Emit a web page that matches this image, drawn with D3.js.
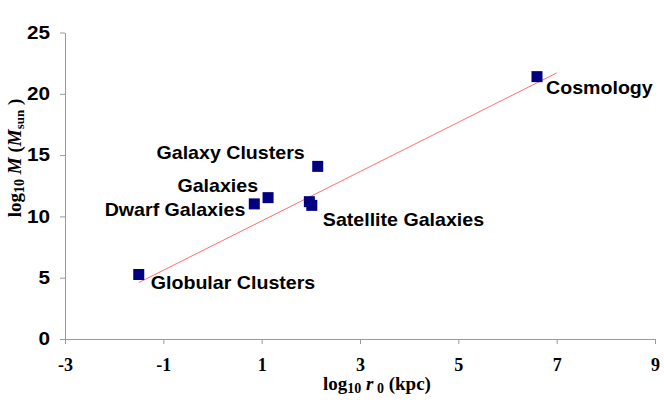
<!DOCTYPE html>
<html>
<head>
<meta charset="utf-8">
<script src="https://cdn.jsdelivr.net/npm/d3@7"></script>
<style>
  html, body { margin: 0; padding: 0; background: #fff; }
  svg { display: block; }
</style>
</head>
<body>
<script>
// ---- data ----
const objectNames = ["Globular Clusters", "Dwarf Galaxies", "Galaxies", "Satellite Galaxies", "Satellite Galaxies", "Galaxy Clusters", "Cosmology"];
const logR = [-1.5, 0.85, 1.13, 1.97, 2.02, 2.14, 6.6];
const logM = [5.26, 11.02, 11.53, 11.2, 10.9, 14.08, 21.4];
const trendX = [-1.5, 7.0];
const trendY = [4.6, 21.7];
const xTicks = [-3, -1, 1, 3, 5, 7, 9];
const yTicks = [0, 5, 10, 15, 20, 25];

// label layout (which points are labelled, and where)
const labelLayout = [
  { i: 0, anchor: "start", dx: 12, dy: 14.5 },
  { i: 1, anchor: "end", dx: -9, dy: 12 },
  { i: 2, anchor: "end", dx: -10, dy: -5.5 },
  { i: 4, anchor: "start", dx: 11, dy: 20.5 },
  { i: 5, anchor: "end", dx: -13, dy: -7 },
  { i: 6, anchor: "start", dx: 9, dy: 17.5 }
];

const W = 664, H = 400;
const svg = d3.select("body").append("svg").attr("width", W).attr("height", H);

const x = d3.scaleLinear().domain([-3, 9]).range([65, 655]);
const y = d3.scaleLinear().domain([0, 25]).range([339, 32.5]);

const axisColor = "#9a9a9a";
const plain = (d) => String(d);

// y axis
const gy = svg.append("g").attr("transform", `translate(${x(-3)},0)`)
  .call(d3.axisLeft(y).tickValues(yTicks).tickFormat(plain).tickSize(5).tickSizeOuter(0).tickPadding(8));
gy.select(".domain").attr("stroke", axisColor);
gy.selectAll(".tick line").attr("stroke", axisColor);
gy.selectAll(".tick text")
  .attr("fill", "#000")
  .attr("font-family", "'Liberation Sans', Arial, sans-serif")
  .attr("font-weight", "bold")
  .attr("font-size", 18)
  .attr("transform", "scale(1.15,1)");

// x axis
const gx = svg.append("g").attr("transform", `translate(0,${y(0)})`)
  .call(d3.axisBottom(x).tickValues(xTicks).tickFormat(plain).tickSize(5).tickSizeOuter(0).tickPadding(14));
gx.select(".domain").attr("stroke", axisColor);
gx.selectAll(".tick line").attr("stroke", axisColor);
gx.selectAll(".tick text")
  .attr("fill", "#000")
  .attr("font-family", "'Liberation Serif', 'Times New Roman', serif")
  .attr("font-weight", "bold")
  .attr("font-size", 18);

// trend line
svg.append("line")
  .attr("x1", x(trendX[0])).attr("y1", y(trendY[0]))
  .attr("x2", x(trendX[1])).attr("y2", y(trendY[1]))
  .attr("stroke", "#ff7070").attr("stroke-width", 1);

// markers
const s = 11;
svg.append("g").selectAll("rect").data(logR).join("rect")
  .attr("x", (d) => x(d) - s / 2)
  .attr("y", (d, i) => y(logM[i]) - s / 2)
  .attr("width", s).attr("height", s)
  .attr("fill", "#000080");

// labels
svg.append("g").selectAll("text").data(labelLayout).join("text")
  .attr("transform", (d) => `translate(${x(logR[d.i]) + d.dx},${y(logM[d.i]) + d.dy}) scale(1.09,1)`)
  .attr("text-anchor", (d) => d.anchor)
  .attr("font-family", "'Liberation Sans', Arial, sans-serif")
  .attr("font-weight", "bold")
  .attr("font-size", 18)
  .attr("fill", "#000")
  .text((d) => objectNames[d.i]);

// x axis title
const xt = svg.append("text")
  .attr("x", 377).attr("y", 390)
  .attr("text-anchor", "middle")
  .attr("font-family", "'Liberation Serif', 'Times New Roman', serif")
  .attr("font-weight", "bold")
  .attr("font-size", 19)
  .attr("fill", "#000");
xt.append("tspan").text("log");
xt.append("tspan").attr("font-size", 14).attr("dy", 3).text("10");
xt.append("tspan").attr("dy", -3).text(" ");
xt.append("tspan").attr("font-style", "italic").text("r");
xt.append("tspan").attr("font-size", 14).attr("dy", 3).text(" 0");
xt.append("tspan").attr("dy", -3).text(" (kpc)");

// y axis title
const yt = svg.append("text")
  .attr("transform", "translate(21,158) rotate(-90)")
  .attr("text-anchor", "middle")
  .attr("font-family", "'Liberation Serif', 'Times New Roman', serif")
  .attr("font-weight", "bold")
  .attr("font-size", 19)
  .attr("fill", "#000");
yt.append("tspan").text("log");
yt.append("tspan").attr("font-size", 14).attr("dy", 3).text("10");
yt.append("tspan").attr("dy", -3).text(" ");
yt.append("tspan").attr("font-style", "italic").text("M");
yt.append("tspan").text(" (");
yt.append("tspan").attr("font-style", "italic").text("M");
yt.append("tspan").attr("font-size", 13).attr("dy", 3).text("sun");
yt.append("tspan").attr("dy", -3).text(" )");
</script>
</body>
</html>
